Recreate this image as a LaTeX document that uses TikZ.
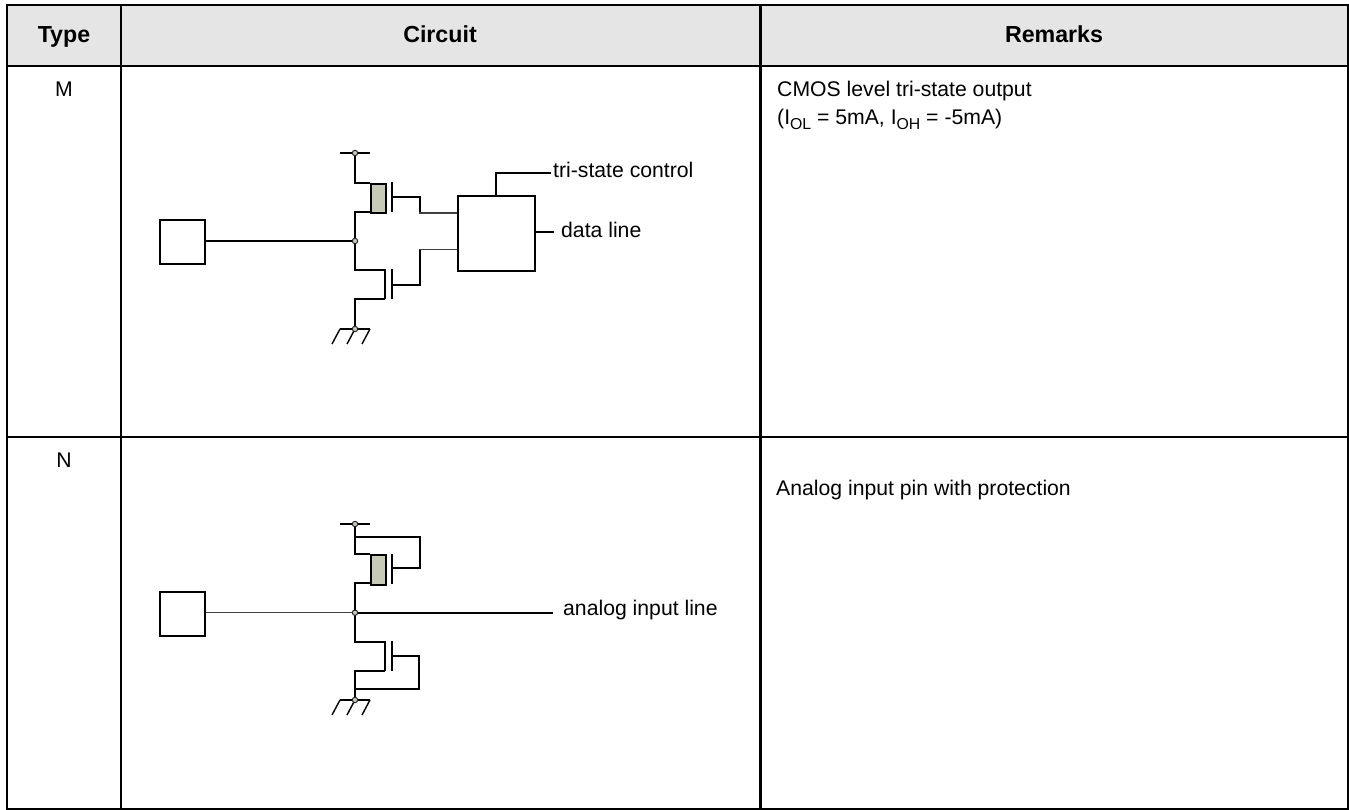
\documentclass[tikz,border=0pt]{standalone}
\usepackage{fontspec}
\setmainfont{Liberation Sans}
\newcommand{\lowsub}[1]{\raisebox{-4.5pt}{\fontsize{15.8pt}{16pt}\selectfont #1}}
\tikzset{
  x=1pt,y=-1pt,
  grid/.style={line width=2.2pt,black},
  wire/.style={line width=2pt,black},
  thinwire/.style={line width=1.1pt,black!75},
  gatebar/.style={line width=2pt,black},
  slash/.style={line width=1.4pt,black},
  body/.style={draw=black,line width=2pt,fill=white,inner sep=0pt,anchor=north west},
  chan/.style={draw=black,line width=2pt,fill=chanfill,inner sep=0pt,minimum width=15pt,minimum height=29.5pt,anchor=north west},
  dot/.style={circle,draw=black!85,line width=1pt,fill=chanfill,inner sep=0pt,minimum size=5.4pt},
  txt/.style={font=\fontsize{21.2pt}{25pt}\selectfont,inner sep=0pt,text=black,anchor=base west},
  head/.style={font=\fontsize{23.2pt}{27pt}\selectfont\bfseries,inner sep=0pt,text=black,anchor=base},
}
\definecolor{chanfill}{HTML}{C8CAB8}
\definecolor{headfill}{HTML}{E5E5E5}
\begin{document}
\begin{tikzpicture}
\useasboundingbox (0,0) rectangle (1349,810);
% table
\fill[headfill] (7,5) rectangle (1348,66);
\draw[grid] (7,5) rectangle (1348,809);
\draw[grid] (7,66) -- (1348,66);
\draw[grid] (7,437) -- (1348,437);
\draw[grid] (121,5) -- (121,809);
\draw[grid] (760.5,5) -- (760.5,809);
\node[head] (hType) at (64,42.5) {Type};
\node[head] (hCircuit) at (440,42.5) {Circuit};
\node[head] (hRemarks) at (1054,42.5) {Remarks};
\node[txt,anchor=base] (tM) at (64,96.7) {M};
\node[txt,anchor=base] (tN) at (64,467.7) {N};
\node[txt] (r1) at (777,96.7) {CMOS level tri-state output};
\node[txt] (r2) at (777,125) {(I\lowsub{OL} = 5mA, I\lowsub{OH} = -5mA)};
\node[txt] (r3) at (776,495) {Analog input pin with protection};

% ---- circuit M
\node[body,minimum width=45pt,minimum height=44pt] (padM) at (159,219) {};
\coordinate (jM) at (355,241);
\coordinate (vddM) at (355,153);
\coordinate (gndM) at (355,329);
\draw[wire] (padM.east |- jM) -- (jM);
\draw[wire] (340,153) -- (370,153);
\draw[wire] (vddM) -- (355,183) -- (370,183);
\node[chan] (pM) at (370,183) {};
\draw[wire] (370,212) -- (355,212) -- (jM) -- (355,270) -- (384.5,270);
\draw[wire] (384.5,299) -- (355,299) -- (gndM);
\draw[gatebar] (384.5,269.5) -- (384.5,299.5);
\draw[gatebar] (392,182) -- (392,212);
\draw[gatebar] (392,269.5) -- (392,299.5);
\node[body,minimum width=77pt,minimum height=75pt] (ctl) at (457,195) {};
\draw[wire] (392,197) -- (419.5,197) -- (419.5,213);
\draw[wire] (392,285) -- (419.5,285) -- (419.5,249.5);
\draw[thinwire] (419,213) -- (ctl.west |- 0,213);
\draw[thinwire] (419,249.5) -- (ctl.west |- 0,249.5);
\node[txt] (lTri) at (553,178) {tri-state control};
\node[txt] (lData) at (561,238) {data line};
\coordinate (triEnd) at (551,173);
\coordinate (dataEnd) at (554,232);
\draw[wire] (ctl.north -| 496,0) -- (496,173) -- (triEnd);
\draw[wire] (ctl.east |- dataEnd) -- (dataEnd);
\draw[wire] (340,329) -- (370,329);
\draw[slash] (340,329) -- (332,344) (355,329) -- (347,344) (370,329) -- (362,344);
\node[dot] (dVddM) at (vddM) {};
\node[dot] (dJM) at (jM) {};
\node[dot] (dGndM) at (gndM) {};

% ---- circuit N
\node[body,minimum width=45pt,minimum height=44pt] (padN) at (159,591) {};
\coordinate (jN) at (355,612.7);
\coordinate (vddN) at (355,524);
\coordinate (gndN) at (355,700);
\coordinate (anEnd) at (553,612.7);
\node[txt] (lAn) at (563,615) {analog input line};
\draw[thinwire] (padN.east |- jN) -- (jN);
\draw[wire] (jN) -- (anEnd);
\draw[wire] (340,524) -- (370,524);
\draw[wire] (vddN) -- (355,554) -- (370,554);
\draw[wire] (355,536.7) -- (419.5,536.7) -- (419.5,567.7) -- (392,567.7);
\node[chan] (pN) at (370,554) {};
\draw[wire] (370,583) -- (355,583) -- (jN) -- (355,641.7) -- (384.5,641.7);
\draw[wire] (384.5,671) -- (355,671) -- (gndN);
\draw[gatebar] (384.5,641) -- (384.5,671);
\draw[gatebar] (392,553.5) -- (392,583.5);
\draw[gatebar] (392,641) -- (392,671);
\draw[wire] (392,656) -- (419,656) -- (419,689) -- (355,689);
\draw[wire] (340,700) -- (370,700);
\draw[slash] (340,700) -- (332,715) (355,700) -- (347,715) (370,700) -- (362,715);
\node[dot] (dVddN) at (vddN) {};
\node[dot] (dJN) at (jN) {};
\node[dot] (dGndN) at (gndN) {};
\end{tikzpicture}
\end{document}
